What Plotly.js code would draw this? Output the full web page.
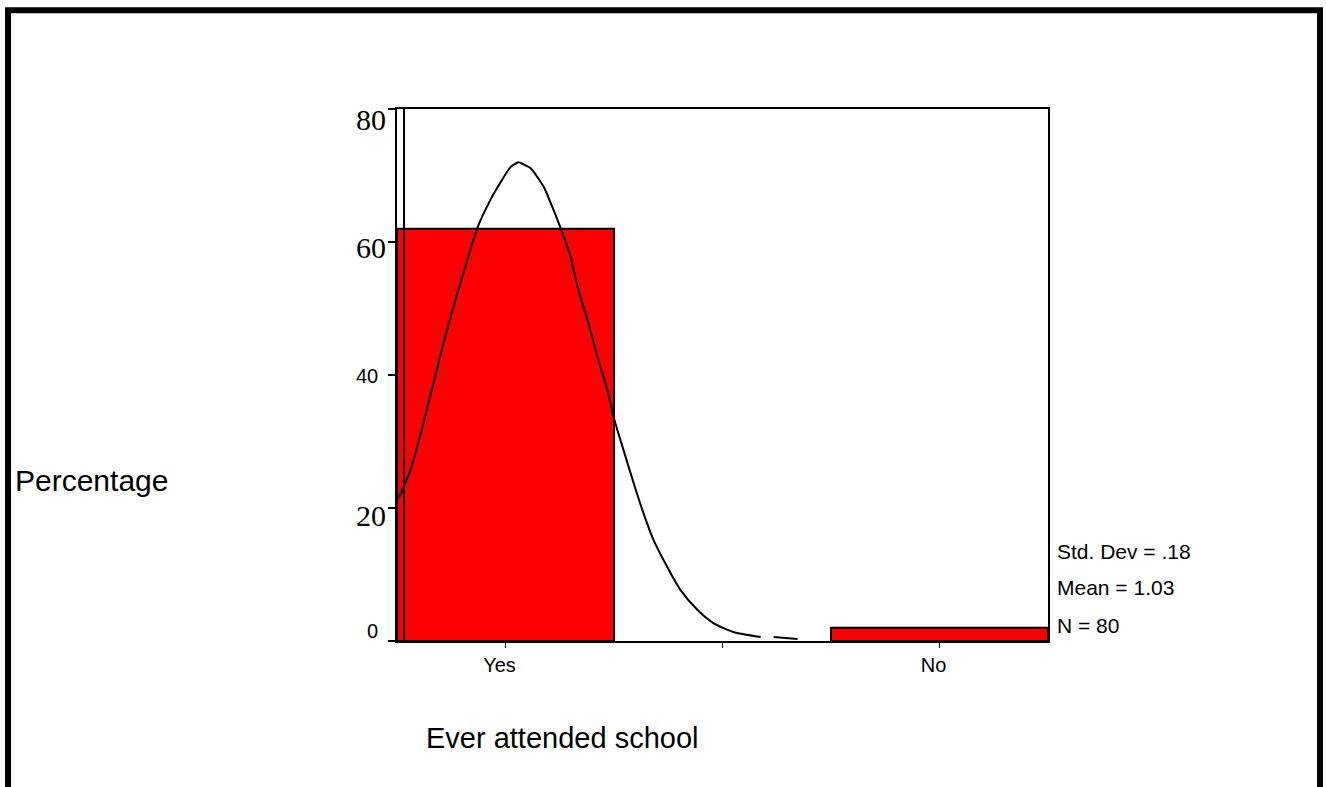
<!DOCTYPE html>
<html>
<head>
<meta charset="utf-8">
<script src="https://cdn.plot.ly/plotly-3.0.1.min.js"></script>
<style>
  html, body { margin: 0; padding: 0; background: #ffffff; }
  #chart { width: 1326px; height: 787px; }
</style>
</head>
<body>
<div id="chart"></div>
<script>
// ---- data ----
const categories = ['Yes', 'No'];
const categoryCodes = [1, 2];
const percentages = [62.0, 2.0];

const xTickVals = [1, 1.5, 2];
const xTickText = ['Yes', '', 'No'];

const yTickVals = [0, 20, 40, 60, 80];
const yTickLabels = ['0', '20', '40', '60', '80'];

// normal curve (x on category-code scale, y in percent)
const curveX = [0.754, 0.781, 0.811, 0.834, 0.857, 0.878, 0.896, 0.919, 0.935, 0.965, 0.988, 1.012, 1.030,
                1.041, 1.058, 1.088, 1.104, 1.127, 1.150, 1.168, 1.191, 1.212, 1.235, 1.249, 1.272, 1.295,
                1.318, 1.341, 1.373, 1.403, 1.442, 1.479, 1.525, 1.588, 1.600, 1.618, 1.673];
const curveY = [21.5, 25.7, 32.8, 38.8, 44.8, 49.8, 53.8, 58.8, 62.1, 66.3, 68.9, 71.3, 72.0,
                71.7, 71.1, 68.3, 65.9, 62.1, 57.7, 52.8, 47.8, 42.7, 37.7, 33.7, 28.7, 23.8,
                19.2, 15.2, 11.1, 7.7, 4.7, 2.7, 1.35, 0.6, null, 0.6, 0.3];

const statsLines = ['Std. Dev = .18', 'Mean = 1.03', 'N = 80'];
const xTitle = 'Ever attended school';
const yTitle = 'Percentage';

// ---- styles (not data) ----
const SANS = 'Liberation Sans, Arial, sans-serif';
const SERIF = 'Liberation Serif, Times New Roman, serif';
const yTickStyle = {
  '0':  {font: SANS,  size: 20, shift: 10,  xs: -17},
  '20': {font: SERIF, size: 30, shift: -7,  xs: -9},
  '40': {font: SANS,  size: 20, shift: -1,  xs: -17},
  '60': {font: SERIF, size: 30, shift: -5,  xs: -9},
  '80': {font: SERIF, size: 30, shift: -10, xs: -9}
};
const statsY = [0.169, 0.1015, 0.030];

const traces = [
  {
    type: 'bar',
    x: categoryCodes,
    y: percentages,
    width: 0.5,
    text: categories,
    textposition: 'none',
    marker: {color: '#ff0000', line: {color: '#000000', width: 2}},
    hoverinfo: 'text+y',
    showlegend: false
  },
  {
    type: 'scatter',
    mode: 'lines',
    x: curveX,
    y: curveY,
    line: {color: '#000000', width: 2, shape: 'spline', smoothing: 0.6},
    connectgaps: false,
    hoverinfo: 'skip',
    showlegend: false
  }
];

const annotations = [];
yTickVals.forEach((v, i) => {
  const st = yTickStyle[yTickLabels[i]];
  annotations.push({
    xref: 'paper', yref: 'y', x: 0, y: v,
    xanchor: 'right', yanchor: 'middle',
    xshift: st.xs, yshift: st.shift,
    text: yTickLabels[i], showarrow: false,
    font: {family: st.font, size: st.size, color: '#000000'}
  });
});
statsLines.forEach((t, i) => {
  annotations.push({
    xref: 'paper', yref: 'paper', x: 1, y: statsY[i],
    xanchor: 'left', yanchor: 'middle', xshift: 7,
    text: t, showarrow: false,
    font: {family: SANS, size: 21, color: '#000000'}
  });
});
annotations.push({
  xref: 'paper', yref: 'paper', x: -0.59, y: 0.3026,
  xanchor: 'left', yanchor: 'middle',
  text: yTitle, showarrow: false,
  font: {family: SANS, size: 30, color: '#000000'}
});
annotations.push({
  xref: 'paper', yref: 'paper', x: 0.041, y: -0.182,
  xanchor: 'left', yanchor: 'middle',
  text: xTitle, showarrow: false,
  font: {family: SANS, size: 29, color: '#000000'}
});

const layout = {
  width: 1326, height: 787,
  margin: {l: 397, r: 278, t: 109, b: 146, pad: 0},
  paper_bgcolor: '#ffffff',
  plot_bgcolor: '#ffffff',
  font: {family: SANS, color: '#000000'},
  bargap: 0,
  xaxis: {
    range: [0.75, 2.25],
    tickmode: 'array', tickvals: xTickVals, ticktext: xTickText,
    ticks: 'outside', ticklen: 5, tickwidth: 1.5, tickcolor: '#000000',
    showline: true, linecolor: '#000000', linewidth: 2, mirror: true,
    showgrid: false, zeroline: false,
    tickfont: {family: SANS, size: 20, color: '#000000'},
    ticklabelshift: -6
  },
  yaxis: {
    range: [0, 80],
    tickmode: 'array', tickvals: yTickVals,
    showticklabels: false,
    ticks: 'outside', ticklen: 7, tickwidth: 1.5, tickcolor: '#000000',
    showline: true, linecolor: '#000000', linewidth: 2, mirror: true,
    showgrid: false, zeroline: false
  },
  shapes: [
    {type: 'line', xref: 'paper', yref: 'paper', x0: 0.0108, x1: 0.0108, y0: 0, y1: 1,
     line: {color: '#000000', width: 2}, layer: 'above'},
    {type: 'rect', xref: 'paper', yref: 'paper', x0: -0.5975, x1: 1.4178, y0: -0.31, y1: 1.1855,
     line: {color: '#000000', width: 6}, fillcolor: 'rgba(0,0,0,0)', layer: 'above'}
  ],
  annotations: annotations
};

Plotly.newPlot('chart', traces, layout, {displayModeBar: false, staticPlot: true});
</script>
</body>
</html>
